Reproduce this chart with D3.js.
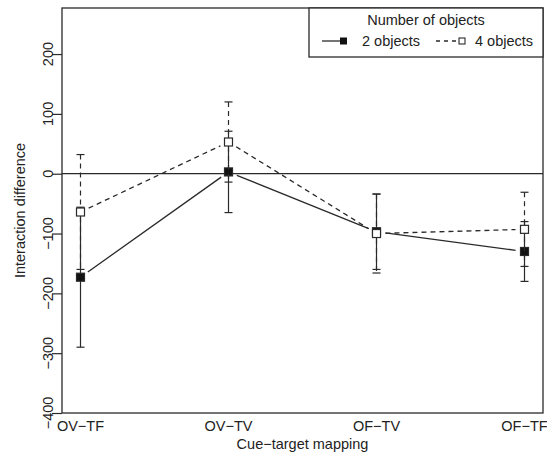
<!DOCTYPE html>
<html>
<head>
<meta charset="utf-8">
<script src="https://cdn.jsdelivr.net/npm/d3@7"></script>
<style>
  body { margin: 0; background: #fff; }
  text { font-family: "Liberation Sans", Arial, sans-serif; fill: #222; }
</style>
</head>
<body>
<div id="chart"></div>
<script>
// data
const categories = ['OV\u2212TF', 'OV\u2212TV', 'OF\u2212TV', 'OF\u2212TF'];
const twoMean  = [-173, 3, -97, -130];
const twoErr   = [117, 68, 63, 50];
const fourMean = [-64, 53, -100, -93];
const fourErr  = [96, 67, 66, 62];
const yTicks   = [-400, -300, -200, -100, 0, 100, 200];

const width = 547, height = 455;
const plot = { left: 62, right: 543, top: 8, bottom: 413 };
const ink = '#2a2a2a';
const fs = '14.5px';

let svg = d3.select('#chart').append('svg')
  .attr('width', width)
  .attr('height', height);

let x = d3.scalePoint()
  .domain(categories)
  .range([plot.left, plot.right])
  .padding(0.125);

let y = d3.scaleLinear()
  .domain([-400, 277])
  .range([plot.bottom, plot.top]);

// zero reference line
svg.append('line')
  .attr('x1', plot.left).attr('x2', plot.right)
  .attr('y1', y(0)).attr('y2', y(0))
  .attr('stroke', ink).attr('stroke-width', 1.2);

// y axis ticks
let yAxis = svg.append('g')
  .attr('transform', 'translate(' + plot.left + ',0)')
  .call(d3.axisLeft(y).tickValues(yTicks).tickSize(10).tickFormat(''));
yAxis.select('.domain').remove();
yAxis.selectAll('line').attr('stroke', ink).attr('stroke-width', 1.2);

svg.selectAll('.ylab')
  .data(yTicks)
  .enter().append('text')
  .attr('class', 'ylab')
  .attr('transform', d => 'translate(53,' + y(d) + ') rotate(-90)')
  .attr('text-anchor', 'middle')
  .style('font-size', fs)
  .text(d => d < 0 ? '\u2212' + Math.abs(d) : d);

// x labels
svg.selectAll('.xlab')
  .data(categories)
  .enter().append('text')
  .attr('class', 'xlab')
  .attr('x', d => x(d))
  .attr('y', 431)
  .attr('text-anchor', 'middle')
  .style('font-size', fs)
  .text(d => d);

svg.append('text')
  .attr('x', (plot.left + plot.right) / 2)
  .attr('y', 449)
  .attr('text-anchor', 'middle')
  .style('font-size', fs)
  .text('Cue\u2212target mapping');

svg.append('text')
  .attr('transform', 'translate(25,' + (plot.top + plot.bottom) / 2 + ') rotate(-90)')
  .attr('text-anchor', 'middle')
  .style('font-size', fs)
  .text('Interaction difference');

function drawSeries(means, errs, dash, filled) {
  let g = svg.append('g');
  let pts = categories.map((c, i) => ({ x: x(c), y: y(means[i]), lo: y(means[i] - errs[i]), hi: y(means[i] + errs[i]) }));

  // error bars
  pts.forEach(p => {
    g.append('line')
      .attr('x1', p.x).attr('x2', p.x)
      .attr('y1', p.hi).attr('y2', p.lo)
      .attr('stroke', ink).attr('stroke-width', 1.2)
      .attr('stroke-dasharray', dash);
    [p.hi, p.lo].forEach(v => {
      g.append('line')
        .attr('x1', p.x - 4).attr('x2', p.x + 4)
        .attr('y1', v).attr('y2', v)
        .attr('stroke', ink).attr('stroke-width', 1.2);
    });
  });

  // connecting segments with gaps round the points
  const gap = 9;
  for (let i = 0; i < pts.length - 1; i++) {
    let a = pts[i], b = pts[i + 1];
    let dx = b.x - a.x, dy = b.y - a.y;
    let len = Math.sqrt(dx * dx + dy * dy);
    g.append('line')
      .attr('x1', a.x + dx / len * gap).attr('y1', a.y + dy / len * gap)
      .attr('x2', b.x - dx / len * gap).attr('y2', b.y - dy / len * gap)
      .attr('stroke', ink).attr('stroke-width', 1.3)
      .attr('stroke-dasharray', dash);
  }

  g.selectAll('rect')
    .data(pts)
    .enter().append('rect')
    .attr('x', d => d.x - 4).attr('y', d => d.y - 4)
    .attr('width', 8).attr('height', 8)
    .attr('fill', filled ? '#111' : '#fff')
    .attr('stroke', ink).attr('stroke-width', 1.2);
}

drawSeries(twoMean, twoErr, null, true);
drawSeries(fourMean, fourErr, '5,4', false);

// plot box
svg.append('rect')
  .attr('x', plot.left).attr('y', plot.top)
  .attr('width', plot.right - plot.left)
  .attr('height', plot.bottom - plot.top)
  .attr('fill', 'none')
  .attr('stroke', ink).attr('stroke-width', 1.3);

// legend
let legend = svg.append('g');
legend.append('rect')
  .attr('x', 309).attr('y', plot.top)
  .attr('width', plot.right - 309).attr('height', 49)
  .attr('fill', '#fff')
  .attr('stroke', ink).attr('stroke-width', 1.3);
legend.append('text')
  .attr('x', 426).attr('y', 25)
  .attr('text-anchor', 'middle')
  .style('font-size', fs)
  .text('Number of objects');

legend.append('line')
  .attr('x1', 322).attr('x2', 343).attr('y1', 41).attr('y2', 41)
  .attr('stroke', ink).attr('stroke-width', 1.3);
legend.append('rect')
  .attr('x', 340).attr('y', 37.5).attr('width', 7).attr('height', 7)
  .attr('fill', '#111');
legend.append('text')
  .attr('x', 362).attr('y', 46)
  .style('font-size', fs)
  .text('2 objects');

legend.append('line')
  .attr('x1', 436).attr('x2', 456).attr('y1', 41).attr('y2', 41)
  .attr('stroke', ink).attr('stroke-width', 1.3)
  .attr('stroke-dasharray', '4,4');
legend.append('rect')
  .attr('x', 459).attr('y', 38).attr('width', 6).attr('height', 6)
  .attr('fill', '#fff')
  .attr('stroke', ink).attr('stroke-width', 1.1);
legend.append('text')
  .attr('x', 475).attr('y', 46)
  .style('font-size', fs)
  .text('4 objects');
</script>
</body>
</html>
